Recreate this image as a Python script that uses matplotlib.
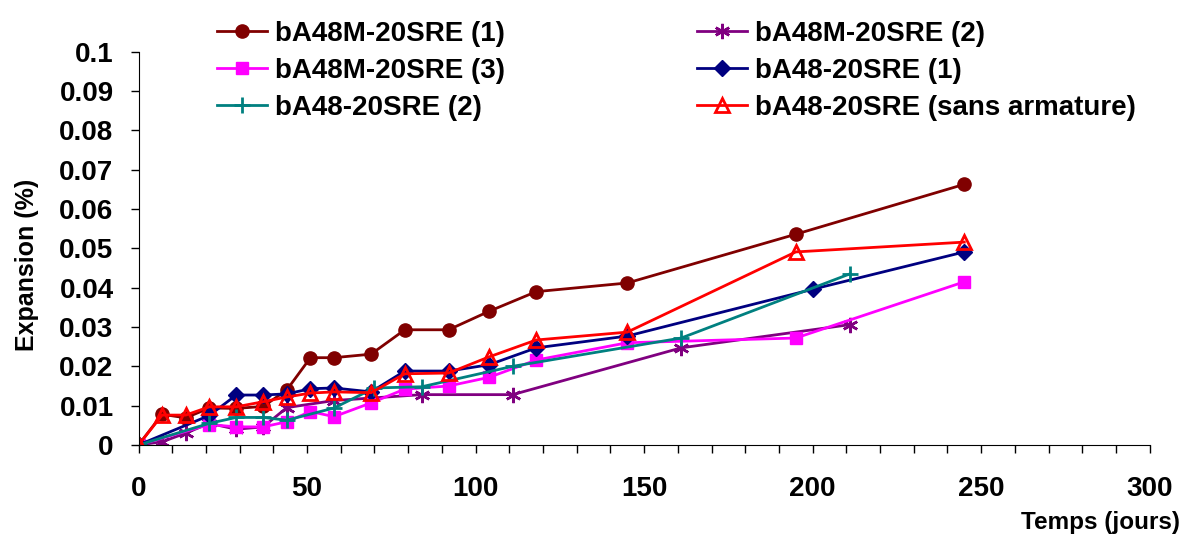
import matplotlib
matplotlib.use('Agg')
import matplotlib.pyplot as plt
from matplotlib.ticker import MultipleLocator

plt.rcParams['font.family'] = ['Liberation Sans', 'DejaVu Sans']
plt.rcParams['font.weight'] = 'bold'

# bA48M-20SRE (1)
days_m1 = [0, 7, 14, 21, 29, 37, 44, 51, 58, 69, 79, 92, 104, 118, 145, 195, 245]
exp_m1 = [0, 0.0078, 0.0069, 0.0094, 0.0093, 0.0098, 0.0140, 0.0222, 0.0222, 0.0231,
          0.0293, 0.0293, 0.0340, 0.0390, 0.0412, 0.0536, 0.0663]
# bA48M-20SRE (2)
days_m2 = [0, 7, 14, 21, 29, 37, 44, 58, 84, 111, 161, 211]
exp_m2 = [0, 0.0008, 0.0030, 0.0055, 0.0040, 0.0046, 0.0095, 0.0113, 0.0128, 0.0128,
          0.0247, 0.0306]
# bA48M-20SRE (3)
days_m3 = [0, 21, 29, 37, 44, 51, 58, 69, 79, 92, 104, 118, 145, 195, 245]
exp_m3 = [0, 0.0052, 0.0046, 0.0046, 0.0059, 0.0085, 0.0072, 0.0107, 0.0142, 0.0150,
          0.0172, 0.0216, 0.0260, 0.0272, 0.0415]
# bA48-20SRE (1)
days_s1 = [0, 21, 29, 37, 44, 51, 58, 69, 79, 92, 104, 118, 145, 200, 245]
exp_s1 = [0, 0.0075, 0.0127, 0.0127, 0.0130, 0.0143, 0.0145, 0.0135, 0.0188, 0.0188,
          0.0204, 0.0247, 0.0277, 0.0396, 0.0491]
# bA48-20SRE (2)
days_s2 = [0, 21, 29, 37, 44, 58, 70, 84, 111, 161, 211]
exp_s2 = [0, 0.0055, 0.0070, 0.0070, 0.0063, 0.0094, 0.0145, 0.0148, 0.0200, 0.0272, 0.0435]
# bA48-20SRE (sans armature)
days_s3 = [0, 7, 14, 21, 29, 37, 44, 51, 58, 69, 79, 92, 104, 118, 145, 195, 245]
exp_s3 = [0, 0.0076, 0.0076, 0.0097, 0.0097, 0.0110, 0.0122, 0.0132, 0.0135, 0.0133,
          0.0181, 0.0183, 0.0224, 0.0267, 0.0287, 0.0491, 0.0516]

y_ticks = [0, 0.01, 0.02, 0.03, 0.04, 0.05, 0.06, 0.07, 0.08, 0.09, 0.1]
y_labels = ['0', '0.01', '0.02', '0.03', '0.04', '0.05', '0.06', '0.07', '0.08', '0.09', '0.1']

fig = plt.figure(figsize=(11.84, 5.4), dpi=100)
ax = fig.add_axes([0.117, 0.176, 0.854, 0.728])

l1, = ax.plot(days_m1, exp_m1, color='#800000', lw=2, marker='o', ms=9.5,
              label='bA48M-20SRE (1)')
l2, = ax.plot(days_m2, exp_m2, color='#800080', lw=2, marker=(6, 2, 0), ms=11,
              mew=1.8, label='bA48M-20SRE (2)')
l3, = ax.plot(days_m3, exp_m3, color='#FF00FF', lw=2, marker='s', ms=9,
              label='bA48M-20SRE (3)')
l4, = ax.plot(days_s1, exp_s1, color='#000080', lw=2, marker='D', ms=8,
              label='bA48-20SRE (1)')
l5, = ax.plot(days_s2, exp_s2, color='#008080', lw=2, marker='+', ms=12, mew=2,
              label='bA48-20SRE (2)')
l6, = ax.plot(days_s3, exp_s3, color='#FF0000', lw=2, marker='^', ms=10, mew=2,
              mfc='none', label='bA48-20SRE (sans armature)')

ax.set_xlim(0, 300)
ax.set_ylim(0, 0.1)
ax.xaxis.set_major_locator(MultipleLocator(50))
ax.xaxis.set_minor_locator(MultipleLocator(10))
ax.set_yticks(y_ticks)
ax.set_yticklabels(y_labels)
ax.tick_params(axis='x', which='both', direction='out', length=6, width=1,
               pad=16, labelsize=20)
ax.tick_params(axis='y', direction='out', length=6, width=1, pad=12, labelsize=20)
for t in ax.get_xticklabels() + ax.get_yticklabels():
    t.set_fontweight('bold')
ax.spines['top'].set_visible(False)
ax.spines['right'].set_visible(False)

ax.set_ylabel('Expansion (%)', fontsize=18, fontweight='bold')
ax.yaxis.set_label_coords(-0.098, 0.458)
fig.text(0.997, 0.032, 'Temps (jours)', fontsize=17.5, fontweight='bold',
         ha='right', va='center')

hs = [l1, l3, l5, l2, l4, l6]
leg = fig.legend(hs, [h.get_label() for h in hs],
                 ncol=2, loc='upper left', bbox_to_anchor=(0.183, 0.962),
                 frameon=False, prop={'weight': 'bold', 'size': 20},
                 handlelength=1.8, handletextpad=0.3, columnspacing=6.9,
                 labelspacing=0.4, borderpad=0, borderaxespad=0)

fig.savefig('out.png', dpi=100)
